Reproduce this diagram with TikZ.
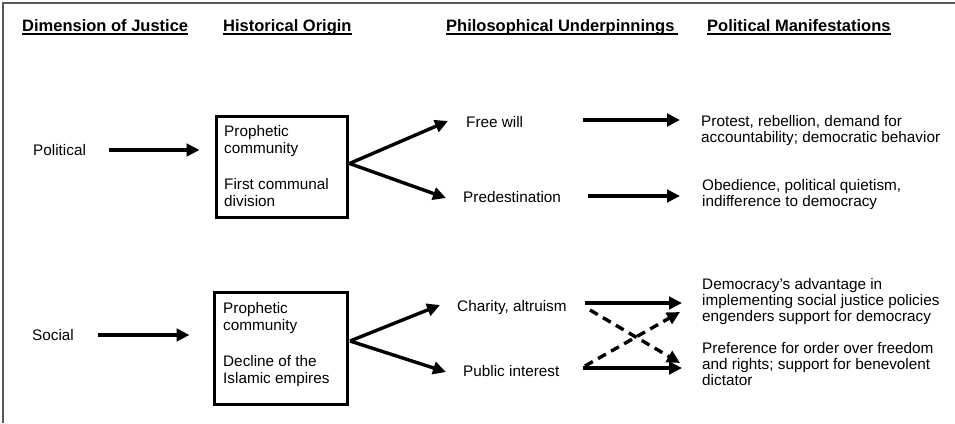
\documentclass[tikz,border=0pt]{standalone}
\usepackage{fontspec}
\setmainfont{Liberation Sans}
\usetikzlibrary{arrows.meta,calc}
\begin{document}
\begin{tikzpicture}[x=1pt,y=-1pt,
  body/.style={inner sep=0pt, anchor=base west, font=\fontsize{15.3}{16}\selectfont, align=left},
  boxtxt/.style={inner sep=0pt, anchor=base west, font=\fontsize{15.3}{17.6}\selectfont, align=left},
  hdr/.style={inner sep=0pt, anchor=base west, font=\fontsize{16.5}{18}\selectfont\bfseries},
  ul/.style={line width=1.4pt},
  framebox/.style={draw, line width=3pt, inner sep=0pt},
  arr/.style={line width=3.4pt, -{Triangle[length=13pt,width=12.5pt]}},
  darr/.style={arr, dash pattern=on 9pt off 6pt},
  frameline/.style={line width=1.3pt, black!65}
]
\useasboundingbox (0,0) rectangle (955,423);
% frame
\coordinate (fc) at (3,3);
\coordinate (fr) at (955,3);
\coordinate (fb) at (3,423);
\draw[frameline] (fb) -- (fc) -- (fr);

% headers
\node[hdr] (h1) at (22,31.5) {Dimension of Justice};
\node[hdr] (h2) at (223,31.5) {Historical Origin};
\node[hdr] (h3) at (446,31.5) {Philosophical Underpinnings};
\node[hdr] (h4) at (707,31.5) {Political Manifestations};
\foreach \h/\e in {h1/0,h2/0,h3/3,h4/0}{
  \draw[ul] ($(\h.base west)+(0,2.5)$) -- ($(\h.base east)+(\e,2.5)$);
}

% left column
\node[body] (pol) at (33,155) {Political};
\node[body] (soc) at (32,340) {Social};

% boxes (multi-line nodes: base = last line's baseline)
\node[framebox, minimum width=130.5pt, minimum height=101pt] (box1) at (281.75,166.5) {};
\node[boxtxt] (b1t) at (224,206.6) {Prophetic\\community\\[17.6pt]First communal\\division};
\node[framebox, minimum width=133pt, minimum height=112pt] (box2) at (281,348.5) {};
\node[boxtxt] (b2t) at (223,383.6) {Prophetic\\community\\[17.6pt]Decline of the\\Islamic empires};

% philosophical
\node[body] (fw) at (466,127) {Free will};
\node[body] (pd) at (463,202.7) {Predestination};
\node[body] (ch) at (457,311.7) {Charity, altruism};
\node[body] (pi) at (463,376.7) {Public interest};

% manifestations
\node[body] (prot) at (701,142.7) {Protest, rebellion, demand for\\accountability; democratic behavior};
\node[body] (obed) at (702,206) {Obedience, political quietism,\\indifference to democracy};
\node[body] (dem) at (702,321) {Democracy’s advantage in\\implementing social justice policies\\engenders support for democracy};
\node[body] (pref) at (702,385.3) {Preference for order over freedom\\and rights; support for benevolent\\dictator};

% arrows
\draw[arr] ($(pol.base west)+(76,-5)$) -- ($(box1.west)+(-15.5,-16.5)$);
\draw[arr] ($(soc.base west)+(66,-5)$) -- ($(box2.west)+(-23.5,-13.5)$);
\draw[arr] ($(box1.east)+(1,-3)$) -- ($(fw.base west)+(-18,-6)$);
\draw[arr] ($(box1.east)+(1,-3)$) -- ($(pd.base west)+(-17,-4.7)$);
\draw[arr] ($(box2.east)+(1,-7.5)$) -- ($(ch.base west)+(-17,-6.7)$);
\draw[arr] ($(box2.east)+(1,-7.5)$) -- ($(pi.base west)+(-17,-4.7)$);
\draw[arr] ($(fw.base west)+(117,-7)$) -- ($(prot.base west)+(-21,-22.7)$);
\draw[arr] ($(pd.base west)+(125,-6.7)$) -- ($(obed.base west)+(-22,-10)$);
\draw[arr] ($(ch.base west)+(128,-8.7)$) -- ($(dem.base west)+(-20,-18)$);
\draw[arr] ($(pi.base west)+(120,-8.7)$) -- ($(pref.base west)+(-20,-17.3)$);
\draw[darr] ($(ch.base west)+(133,-1.7)$) -- ($(pref.base west)+(-22,-22.3)$);
\draw[darr] ($(pi.base west)+(122,-10.7)$) -- ($(dem.base west)+(-22,-9)$);
\end{tikzpicture}
\end{document}
